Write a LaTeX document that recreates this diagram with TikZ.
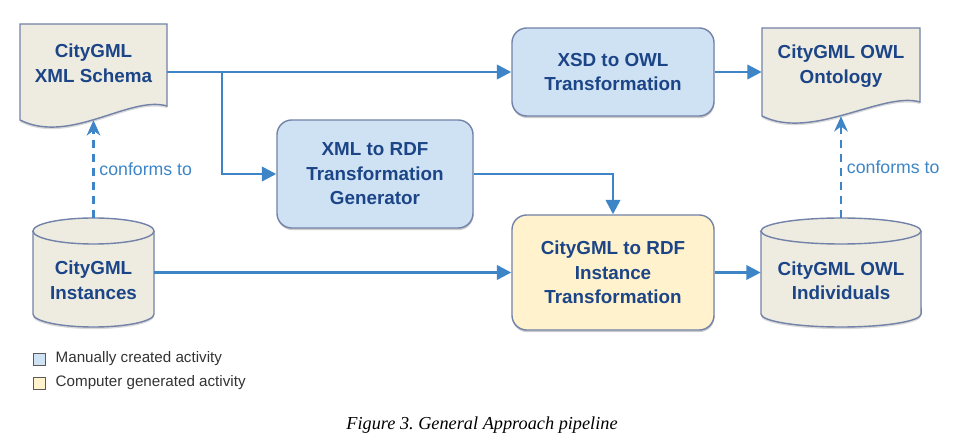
\documentclass[tikz,border=0pt]{standalone}
\usepackage{fontspec}
\setmainfont{Liberation Sans}
\newfontfamily\capfont{Liberation Serif}
\usetikzlibrary{arrows.meta, positioning, shadows}

\definecolor{arrowblue}{HTML}{3D85C6}
\definecolor{textblue}{HTML}{1C4587}
\definecolor{edgegray}{HTML}{7282A8}
\definecolor{paperfill}{HTML}{EEECE1}
\definecolor{manualfill}{HTML}{CFE2F3}
\definecolor{autofill}{HTML}{FFF2CC}

\tikzset{
  boxfont/.style={font=\fontsize{13.4pt}{17.5pt}\selectfont\bfseries},
  activity/.style={boxfont, draw=edgegray, line width=1pt, rounded corners=0.37cm,
    align=center, text=textblue, inner sep=0,
    drop shadow={shadow xshift=0.3pt, shadow yshift=-1.5pt, opacity=0.2, fill=black}},
  store/.style={boxfont, align=center, text=textblue, inner sep=0},
  shapeline/.style={draw=edgegray, line width=1pt, fill=paperfill},
  shadowfill/.style={fill=black, opacity=0.15},
  flow/.style={line width=1.8pt, draw=arrowblue, -{Triangle[length=0.36cm,width=0.36cm]}},
  conform/.style={line width=1.8pt, draw=arrowblue, dash pattern=on 0.2cm off 0.15cm,
    -{Stealth[length=0.38cm,width=0.34cm]}},
  conftext/.style={text=arrowblue, font=\fontsize{12.6pt}{15pt}\selectfont},
  legsq/.style={draw=black!65, line width=0.6pt, minimum size=0.3cm, inner sep=0},
  legtext/.style={inner sep=0, text=black!80, font=\fontsize{10.8pt}{13pt}\selectfont}
}

% document shape: left, top, right, bottom
\newcommand{\paperdoc}[4]{%
  \fill[shadowfill, yshift=-1.5pt] (#1,#2) -- (#3,#2) -- (#3,#4-14)
    .. controls (#3-37,#4-25) and (#1+50,#4+25) .. (#1,#4) -- cycle;
  \draw[shapeline] (#1,#2) -- (#3,#2) -- (#3,#4-14)
    .. controls (#3-37,#4-25) and (#1+50,#4+25) .. (#1,#4) -- cycle;}

% cylinder: left, top, right, bottom, x radius
\newcommand{\datastore}[5]{%
  \fill[shadowfill, yshift=-1.5pt] (#1,#2+13) -- (#1,#4-13)
    arc[start angle=180, end angle=360, x radius=#5, y radius=0.325cm] -- (#3,#2+13)
    arc[start angle=0, end angle=180, x radius=#5, y radius=0.325cm] -- cycle;
  \draw[shapeline] (#1,#2+13) -- (#1,#4-13)
    arc[start angle=180, end angle=360, x radius=#5, y radius=0.325cm] -- (#3,#2+13)
    arc[start angle=0, end angle=180, x radius=#5, y radius=0.325cm] -- cycle;
  \draw[draw=edgegray, line width=1pt] (#1,#2+13)
    arc[start angle=180, end angle=360, x radius=#5, y radius=0.325cm];}

\begin{document}
\begin{tikzpicture}[x=0.025cm, y=-0.025cm]
\useasboundingbox (0,0) rectangle (968,445);

%shapes of the data
\paperdoc{20}{24}{167}{120}
\paperdoc{762}{28}{920}{116}
\datastore{33}{218}{154}{327}{1.5125cm}
\datastore{761}{218}{921}{327}{2cm}

\node[store, minimum width=3.675cm, minimum height=2.4cm, text depth=0.45cm] (schema) at (93.5,72) {CityGML\\XML Schema};
\node[store, minimum width=3.95cm, minimum height=2.2cm, text depth=0.4cm] (onto) at (841,72) {CityGML OWL\\Ontology};
\node[store, minimum width=3.025cm, minimum height=2.725cm, text height=38pt] (inst) at (93.5,272.5) {CityGML\\Instances};
\node[store, minimum width=4cm, minimum height=2.725cm, text height=39pt] (indiv) at (841,272.5) {CityGML OWL\\Individuals};

%activities
\node[activity, fill=manualfill, minimum width=5.05cm, minimum height=2.2cm] (xsd) at (613,72) {XSD to OWL\\Transformation};
\node[activity, fill=manualfill, minimum width=4.9cm, minimum height=2.7cm] (gen) at (375,174) {XML to RDF\\Transformation\\Generator};
\node[activity, fill=autofill, minimum width=5.05cm, minimum height=2.875cm] (rdf) at (613,272.5) {CityGML to RDF\\Instance\\Transformation};

%connectors
\coordinate (split) at (222,72);
\draw[flow] (schema.east) -- (xsd.west);
\draw[flow] (split) |- (gen.west);
\draw[flow] (xsd.east) -- (onto.west);
\draw[flow] (gen.east) -| (rdf.north);
\draw[flow] (inst.east) -- (rdf.west);
\draw[flow] (rdf.east) -- (indiv.west);

\draw[conform] (inst.north) -- node[midway, right, conftext] (conf1) {conforms to} (schema.south);
\draw[conform] (indiv.north) -- node[midway, right, conftext] (conf2) {conforms to} (onto.south);

%legend
\node[legsq, fill=manualfill] (legmanual) at (39,359) {};
\node[legsq, fill=autofill] (legauto) at (39,383) {};
\node[legtext, right=0.25cm of legmanual] (legmanualtext) {Manually created activity};
\node[legtext, right=0.25cm of legauto] (legautotext) {Computer generated activity};

\node[font=\capfont\itshape\fontsize{13pt}{15pt}\selectfont] (caption) at (482,425) {Figure 3.\ General Approach pipeline};
\end{tikzpicture}
\end{document}
